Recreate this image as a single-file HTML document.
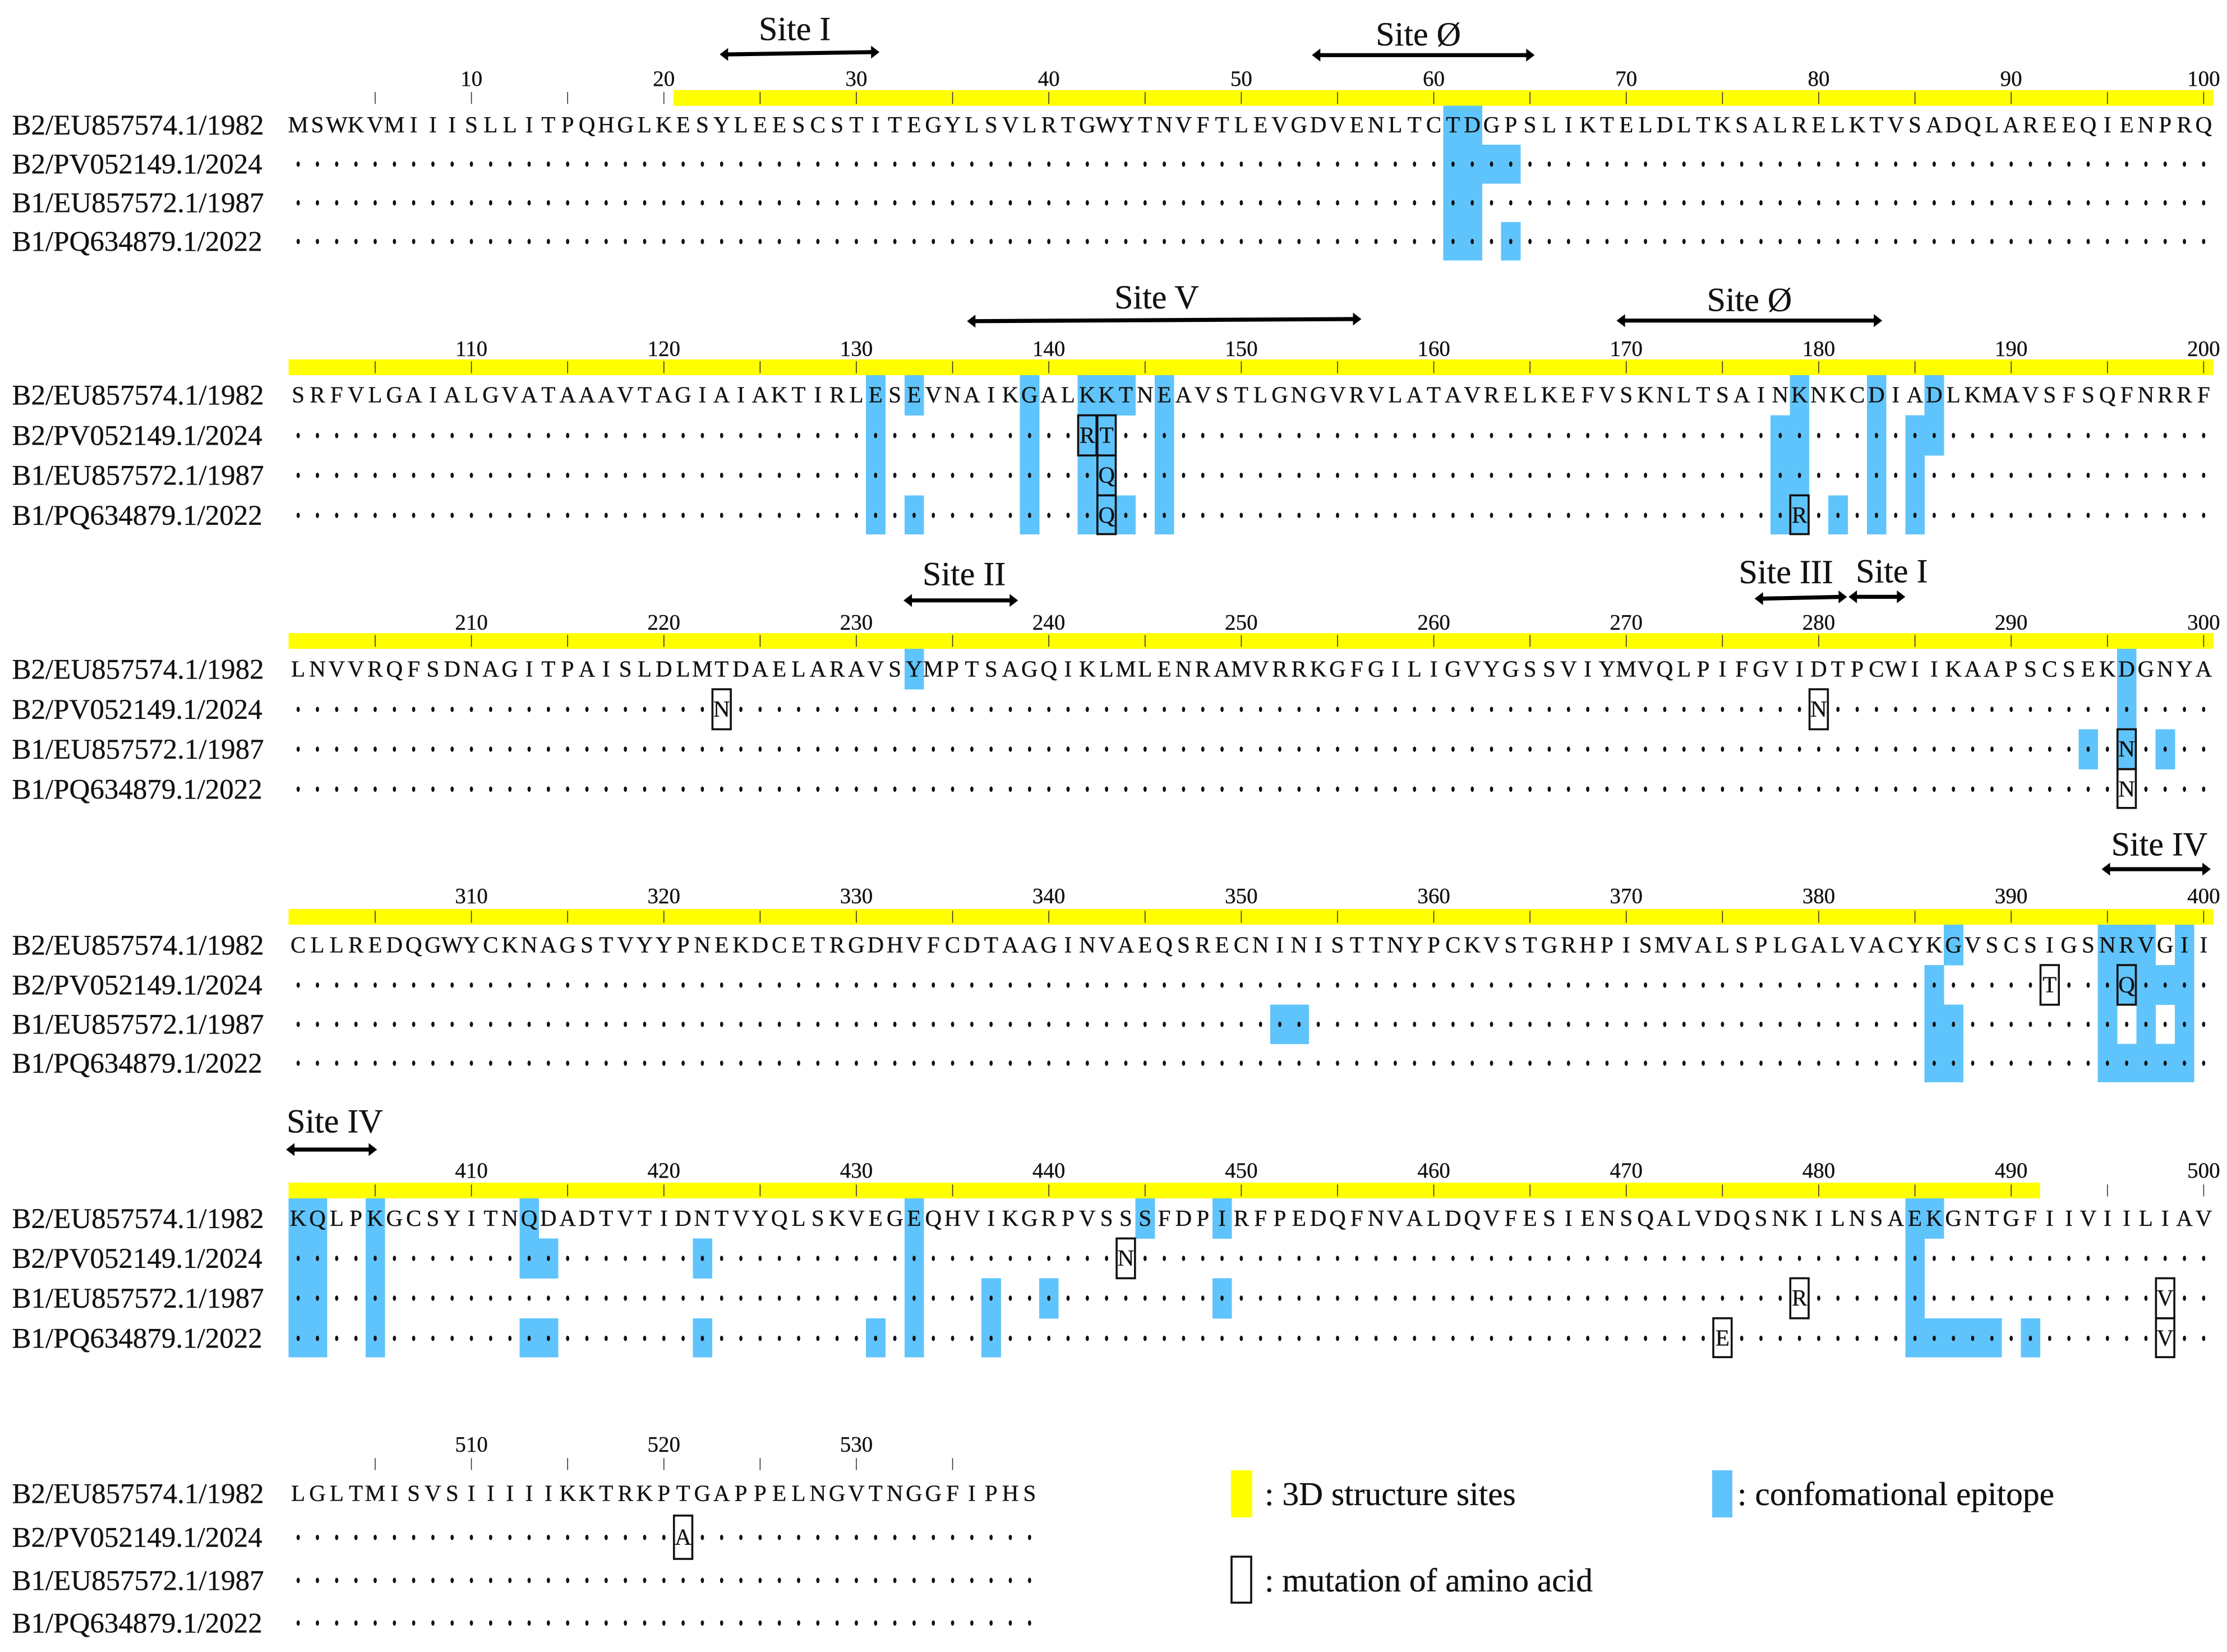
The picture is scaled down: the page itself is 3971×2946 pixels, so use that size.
<!DOCTYPE html>
<html lang="en">
<head>
<meta charset="utf-8">
<title>Sequence alignment with epitope annotation</title>
<style>
html,body{margin:0;padding:0;background:#fff;}
svg{display:block;}
text{font-family:"Liberation Serif","DejaVu Serif",serif;fill:#111;stroke:#111;stroke-width:0.35px;}
</style>
</head>
<body>
<svg id="chart" xmlns="http://www.w3.org/2000/svg" width="3971" height="2946" viewBox="0 0 3971 2946">
  <rect x="0" y="0" width="3971" height="2946" fill="#fff"/>
  <g id="plot"></g>
  <g>
    <rect x="2195" y="2622" width="38" height="84" fill="#ffff00"/>
    <text x="2255" y="2684" font-size="59.5">: 3D structure sites</text>
    <rect x="3053" y="2622" width="36" height="84" fill="#5fc4fb"/>
    <text x="3098" y="2684" font-size="59.5">: confomational epitope</text>
    <rect x="2196" y="2776" width="35" height="82" fill="#fff" stroke="#111" stroke-width="3.6"/>
    <text x="2255" y="2838" font-size="59.5">: mutation of amino acid</text>
  </g>
</svg>
<script>
// ---- data ----
const strainLabels = ["B2/EU857574.1/1982", "B2/PV052149.1/2024", "B1/EU857572.1/1987", "B1/PQ634879.1/2022"];
const referenceSequence =
  "MSWKVMIIISLLITPQHGLKESYLEESCSTITEGYLSVLRTGWYTNVFTLEVGDVENLTCTDGPSLIKTELDLTKSALRELKTVSADQLAREEQIENPRQ" +
  "SRFVLGAIALGVATAAAVTAGIAIAKTIRLESEVNAIKGALKKTNEAVSTLGNGVRVLATAVRELKEFVSKNLTSAINKNKCDIADLKMAVSFSQFNRRF" +
  "LNVVRQFSDNAGITPAISLDLMTDAELARAVSYMPTSAGQIKLMLENRAMVRRKGFGILIGVYGSSVIYMVQLPIFGVIDTPCWIIKAAPSCSEKDGNYA" +
  "CLLREDQGWYCKNAGSTVYYPNEKDCETRGDHVFCDTAAGINVAEQSRECNINISTTNYPCKVSTGRHPISMVALSPLGALVACYKGVSCSIGSNRVGII" +
  "KQLPKGCSYITNQDADTVTIDNTVYQLSKVEGEQHVIKGRPVSSSFDPIRFPEDQFNVALDQVFESIENSQALVDQSNKILNSAEKGNTGFIIVIILIAV" +
  "LGLTMISVSIIIIIKKTRKPTGAPPELNGVTNGGFIPHS";
const structureRange = [21, 491];
const epitopeEU1982 = [61,62,131,133,139,142,143,144,146,179,183,186,233,296,387,395,396,397,399,401,402,405,413,433,445,449,485,486];
const epitopePV2024 = [61,62,63,64,131,139,142,143,146,178,179,183,185,186,296,386,395,396,397,398,399,401,402,405,413,414,422,433,485];
const epitopeEU1987 = [61,62,131,139,142,143,146,178,179,183,185,294,296,298,352,353,386,387,395,397,399,401,402,405,433,437,440,449,485];
const epitopePQ2022 = [61,62,64,131,133,139,142,143,144,146,178,179,181,183,185,386,387,395,396,397,398,399,401,402,405,413,414,422,431,433,437,485,486,487,488,489,491];
const epitopes = [epitopeEU1982, epitopePV2024, epitopeEU1987, epitopePQ2022];
const mutationPositions = [[], [142,143,223,280,392,396,444,521], [143,296,479,498], [143,179,296,475,498]];
const mutationResidues = [[], ["R","T","N","N","T","Q","N","A"], ["Q","N","R","V"], ["Q","R","N","E","V"]];
const siteNames = ["Site I","Site Ø","Site V","Site Ø","Site II","Site III","Site I","Site IV","Site IV"];
const siteBlocks = [0,0,1,1,2,2,2,3,4];
const siteStarts = [22.9,53.67,135.75,169.5,232.45,276.67,281.55,394.7,400.37];
const siteEnds = [31.2,65.24,156.24,183.3,238.4,281.47,284.5,400.37,405.1];
const siteLabelAt = [26.8,59.2,145.6,176.4,235.6,278.3,283.8,397.7,402.9];

// ---- layout ----
const COL = 34.32, X0 = 531.7, BAR_H = 28;
const layoutBarTop = [160.7, 641, 1129, 1621, 2109, 2597];
const layoutTickLabelY = [153, 634.3, 1122.7, 1610.7, 2100, 2588.3];
const layoutRowCentre = [
  [223, 292.7, 361.7, 430.7],
  [704.5, 776.7, 847.7, 919],
  [1193.3, 1265, 1336, 1407.3],
  [1685.3, 1756.7, 1826.7, 1896],
  [2173, 2244, 2315, 2386.7],
  [2663.7, 2741.7, 2818.3, 2894.3]
];
const layoutSiteLabelY = [71.7, 81, 550, 554.3, 1043.3, 1040, 1038.3, 1525.7, 2019.3];
const layoutSiteArrowY0 = [97, 98.3, 572.7, 571.7, 1070.7, 1067.5, 1064.3, 1550, 2050];
const layoutSiteArrowY1 = [93, 98.3, 569, 571.7, 1070.7, 1064.5, 1064.3, 1550, 2050];

// ---- scales ----
const NS = "http://www.w3.org/2000/svg";
const plot = document.getElementById("plot");
const blockOf = pos => Math.floor((pos - 1) / 100);
const xIn = (pos, block) => X0 + (pos - block * 100 - 1) * COL;
const xOf = pos => xIn(pos, blockOf(pos));
const rowTop = (b, r) => r === 0 ? layoutBarTop[b] + BAR_H : (layoutRowCentre[b][r - 1] + layoutRowCentre[b][r]) / 2;
const rowBottom = (b, r) => r === 3 ? layoutRowCentre[b][3] + 33.5 : (layoutRowCentre[b][r] + layoutRowCentre[b][r + 1]) / 2;

function make(tag, parent, attrs, content) {
  const el = document.createElementNS(NS, tag);
  for (const k in attrs) el.setAttribute(k, attrs[k]);
  if (content !== undefined) el.textContent = content;
  parent.appendChild(el);
  return el;
}

const totalBlocks = blockOf(referenceSequence.length) + 1;

// structure bars
for (let b = 0; b < totalBlocks; b++) {
  const from = Math.max(structureRange[0], b * 100 + 1);
  const to = Math.min(structureRange[1], b * 100 + 100);
  if (from > to) continue;
  const bar = make("rect", plot, {x: xOf(from) - COL / 2, y: layoutBarTop[b], width: (to - from + 1) * COL, height: BAR_H, fill: "#ffff00"});
  
  
}

// epitope cells
epitopes.forEach((positions, r) => {
  positions.forEach(pos => {
    const b = blockOf(pos);
    const top = rowTop(b, r);
    const cell = make("rect", plot, {x: xOf(pos) - COL / 2, y: top, width: COL + 0.4, height: rowBottom(b, r) - top + 0.4, fill: "#5fc4fb", "shape-rendering": "crispEdges"});
    
    
  });
});

// ticks and tick labels
for (let pos = 5; pos <= referenceSequence.length; pos += 5) {
  const b = blockOf(pos);
  const tick = make("line", plot, {x1: xOf(pos), x2: xOf(pos), y1: layoutBarTop[b] + 3.3, y2: layoutBarTop[b] + 24.5, stroke: "#333", "stroke-width": 1.6});
  
  
  if (pos % 10 === 0) {
    const label = make("text", plot, {x: xOf(pos), y: layoutTickLabelY[b], "font-size": 39, "text-anchor": "middle"}, String(pos));
    
    
  }
}

// strain labels
for (let b = 0; b < totalBlocks; b++) {
  strainLabels.forEach((name, r) => {
    const label = make("text", plot, {x: 21.5, y: layoutRowCentre[b][r] + 17, "font-size": 51}, name);
    
    
  });
}

// reference residues and identity dots
referenceSequence.split("").forEach((aa, i) => {
  const pos = i + 1;
  const b = blockOf(pos);
  const residue = make("text", plot, {x: xOf(pos), y: layoutRowCentre[b][0] + 13, "font-size": 41, "text-anchor": "middle"}, aa);
  
  
  for (let r = 1; r < 4; r++) {
    if (mutationPositions[r].includes(pos)) continue;
    const dot = make("ellipse", plot, {cx: xOf(pos), cy: layoutRowCentre[b][r], rx: 2.9, ry: 4.8, fill: "#111"});
    
    
  }
});

// mutation boxes
mutationPositions.forEach((positions, r) => {
  positions.forEach((pos, k) => {
    const b = blockOf(pos);
    const top = rowTop(b, r);
    const box = make("rect", plot, {x: xOf(pos) - COL / 2 + 0.8, y: top, width: COL - 1.6, height: rowBottom(b, r) - top, fill: "none", stroke: "#111", "stroke-width": 3.6});
    
    
    const letter = make("text", plot, {x: xOf(pos), y: layoutRowCentre[b][r] + 13, "font-size": 41, "text-anchor": "middle"}, mutationResidues[r][k]);
    
    
  });
});

// antigenic site arrows and labels
siteNames.forEach((name, i) => {
  const b = siteBlocks[i];
  const label = make("text", plot, {x: xIn(siteLabelAt[i], b), y: layoutSiteLabelY[i], "font-size": 60, "text-anchor": "middle"}, name);
  
  
  const xa = xIn(siteStarts[i], b), xb = xIn(siteEnds[i], b);
  const ya = layoutSiteArrowY0[i], yb = layoutSiteArrowY1[i];
  const head = 15, half = 11.5, shaft = 3.6;
  const pts = [
    [xa, ya], [xa + head, ya - half], [xa + head, ya - shaft],
    [xb - head, yb - shaft], [xb - head, yb - half], [xb, yb],
    [xb - head, yb + half], [xb - head, yb + shaft], [xa + head, ya + shaft],
    [xa + head, ya + half]
  ].map(p => p[0].toFixed(1) + "," + p[1].toFixed(1)).join(" ");
  const arrow = make("polygon", plot, {points: pts, fill: "#000"});
  
  
});
</script>
</body>
</html>
